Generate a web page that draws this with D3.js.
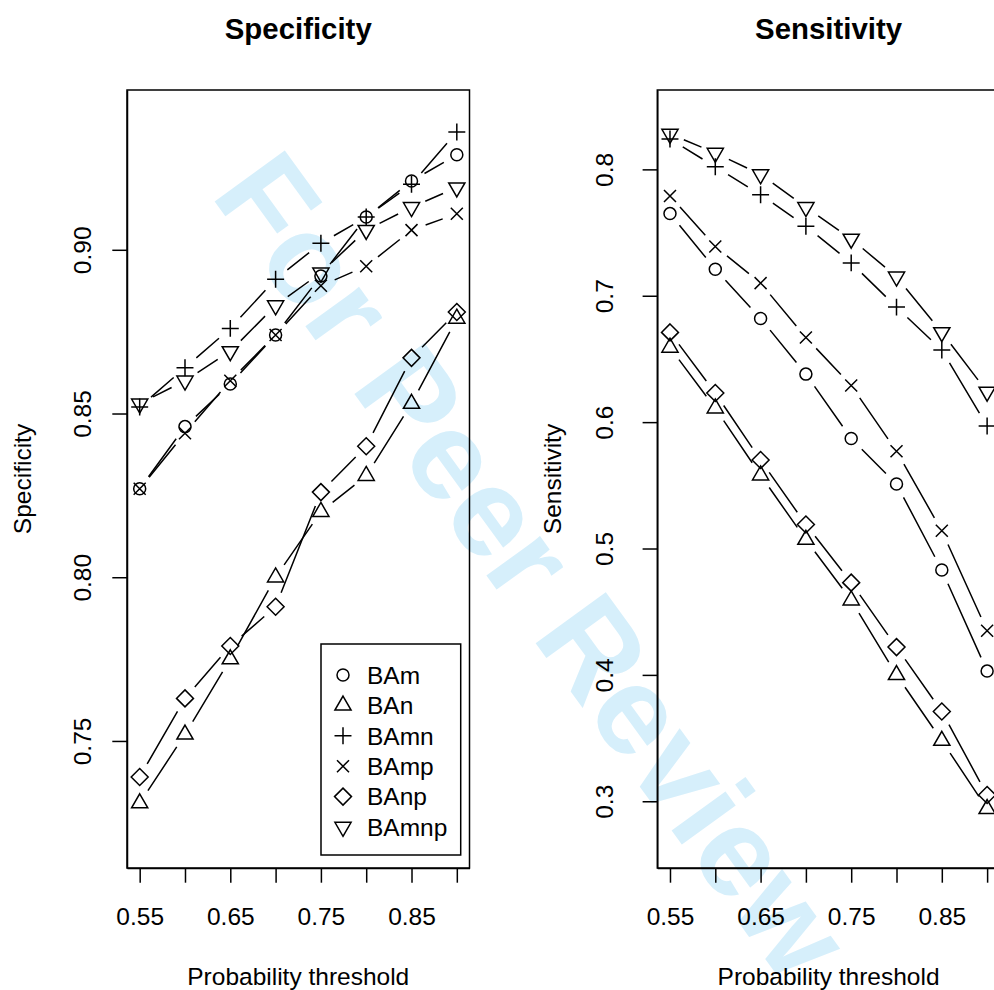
<!DOCTYPE html>
<html>
<head>
<meta charset="utf-8">
<script src="https://cdnjs.cloudflare.com/ajax/libs/d3/7.8.5/d3.min.js"></script>
<style>
  body { margin: 0; background: #fff; }
  svg { display: block; }
</style>
</head>
<body>
<div id="chart"></div>
<script>
// thresholds on the x axis, R only printed every other label
var thresholds = [0.55, 0.60, 0.65, 0.70, 0.75, 0.80, 0.85, 0.90];
var xTickLabels = ["0.55", "", "0.65", "", "0.75", "", "0.85", ""];

var seriesNames = ["BAm", "BAn", "BAmn", "BAmp", "BAnp", "BAmnp"];
var seriesSymbols = ["circle", "triUp", "plus", "cross", "diamond", "triDown"];

var specBAm   = [0.827, 0.846, 0.859, 0.874, 0.892, 0.910, 0.921, 0.929];
var specBAn   = [0.731, 0.752, 0.775, 0.800, 0.820, 0.831, 0.853, 0.879];
var specBAmn  = [0.852, 0.864, 0.876, 0.891, 0.902, 0.910, 0.920, 0.936];
var specBAmp  = [0.827, 0.844, 0.860, 0.874, 0.889, 0.895, 0.906, 0.911];
var specBAnp  = [0.739, 0.763, 0.779, 0.791, 0.826, 0.840, 0.867, 0.881];
var specBAmnp = [0.853, 0.860, 0.869, 0.883, 0.893, 0.906, 0.913, 0.919];

var sensBAm   = [0.765, 0.721, 0.682, 0.638, 0.587, 0.551, 0.483, 0.403];
var sensBAn   = [0.659, 0.611, 0.558, 0.507, 0.459, 0.400, 0.348, 0.294];
var sensBAmn  = [0.824, 0.802, 0.780, 0.755, 0.726, 0.691, 0.657, 0.597];
var sensBAmp  = [0.779, 0.739, 0.710, 0.667, 0.629, 0.577, 0.514, 0.435];
var sensBAnp  = [0.671, 0.623, 0.570, 0.519, 0.473, 0.422, 0.371, 0.305];
var sensBAmnp = [0.828, 0.813, 0.796, 0.770, 0.745, 0.715, 0.671, 0.624];

var specYTicks = [0.75, 0.80, 0.85, 0.90];
var sensYTicks = [0.3, 0.4, 0.5, 0.6, 0.7, 0.8];
var specYLim = [0.72, 0.94];
var sensYLim = [0.27, 0.84];

var width = 994, height = 990,
    fontFamily = '"Liberation Sans", Arial, Helvetica, sans-serif',
    fontSize = 24.5,
    symSize = 6,      // base symbol radius
    lineGap = 15,     // type="b" gap round each point
    tickLen = 14.7;

// R pads the axis limits by 4% on each side
var pad = function (lim) {
  var d = (lim[1] - lim[0]) * 0.04;
  return [lim[0] - d, lim[1] + d];
};

var svg = d3.select("#chart").append("svg")
    .attr("width", width)
    .attr("height", height)
    .style("font-family", fontFamily);

svg.append("rect").attr("width", width).attr("height", height).attr("fill", "#fff");

// watermark sits under everything
svg.append("text")
    .text("For Peer Review")
    .attr("transform", "translate(209.7,194.7) rotate(54)")
    .attr("font-size", 126)
    .attr("font-weight", "bold")
    .attr("fill", "#d6effb");

var symbolPath = function (type, s) {
  var a = 1.414 * s, t = 1.555 * s, tw = 1.347 * s, tb = 0.778 * s;
  switch (type) {
    case "circle": return "M" + (-s) + ",0 a" + s + "," + s + " 0 1,0 " + (2 * s) + ",0 a" + s + "," + s + " 0 1,0 " + (-2 * s) + ",0";
    case "triUp": return "M0," + (-t) + " L" + tw + "," + tb + " L" + (-tw) + "," + tb + " Z";
    case "triDown": return "M0," + t + " L" + tw + "," + (-tb) + " L" + (-tw) + "," + (-tb) + " Z";
    case "plus": return "M" + (-a) + ",0 L" + a + ",0 M0," + (-a) + " L0," + a;
    case "cross": return "M" + (-s) + "," + (-s) + " L" + s + "," + s + " M" + (-s) + "," + s + " L" + s + "," + (-s);
    case "diamond": return "M0," + (-a) + " L" + a + ",0 L0," + a + " L" + (-a) + ",0 Z";
  }
};

var drawPanel = function (p) {
  var x = d3.scaleLinear().domain(pad([thresholds[0], thresholds[thresholds.length - 1]])).range([p.left, p.right]);
  var y = d3.scaleLinear().domain(pad(p.ylim)).range([p.bottom, p.top]);

  var g = svg.append("g");

  // lines with gaps (type = "b")
  p.series.forEach(function (vals, si) {
    var pts = vals.map(function (v, i) { return [x(thresholds[i]), y(v)]; });
    var segs = [];
    for (var i = 0; i < pts.length - 1; i++) {
      var dx = pts[i + 1][0] - pts[i][0], dy = pts[i + 1][1] - pts[i][1],
          dist = Math.sqrt(dx * dx + dy * dy);
      if (dist <= 2 * lineGap) continue;
      var ux = dx / dist, uy = dy / dist;
      segs.push("M" + (pts[i][0] + ux * lineGap) + "," + (pts[i][1] + uy * lineGap) +
        " L" + (pts[i + 1][0] - ux * lineGap) + "," + (pts[i + 1][1] - uy * lineGap));
    }
    g.append("path")
      .attr("d", segs.join(" "))
      .attr("fill", "none")
      .attr("stroke", "#000")
      .attr("stroke-width", 1.5);

    g.selectAll(".pt" + si)
      .data(vals)
      .enter().append("path")
        .attr("transform", function (d, i) { return "translate(" + x(thresholds[i]) + "," + y(d) + ")"; })
        .attr("d", symbolPath(seriesSymbols[si], symSize))
        .attr("fill", "none")
        .attr("stroke", "#000")
        .attr("stroke-width", 1.5);
  });

  // box
  g.append("rect")
    .attr("x", p.left).attr("y", p.top)
    .attr("width", p.right - p.left).attr("height", p.bottom - p.top)
    .attr("fill", "none").attr("stroke", "#000").attr("stroke-width", 1.5);

  var xAxis = g.append("g")
    .attr("transform", "translate(0," + p.bottom + ")")
    .call(d3.axisBottom(x).tickValues(thresholds).tickSize(tickLen).tickSizeOuter(0)
      .tickFormat(function (d, i) { return xTickLabels[i]; }));
  xAxis.selectAll("text")
    .attr("y", 57).attr("dy", null)
    .attr("font-size", fontSize).attr("font-family", fontFamily).attr("fill", "#000");

  var yAxis = g.append("g")
    .attr("transform", "translate(" + p.left + ",0)")
    .call(d3.axisLeft(y).tickValues(p.yticks).tickSize(tickLen).tickSizeOuter(0)
      .tickFormat(d3.format(p.yfmt)));
  yAxis.selectAll("text")
    .attr("x", 0).attr("y", -p.labelGap).attr("dy", null)
    .attr("transform", "rotate(-90)")
    .attr("text-anchor", "middle")
    .attr("font-size", fontSize).attr("font-family", fontFamily).attr("fill", "#000");

  svg.selectAll("path.domain, .tick line").attr("stroke", "#000").attr("stroke-width", 1.5);

  var cx = (p.left + p.right) / 2, cy = (p.top + p.bottom) / 2;

  g.append("text")
    .text(p.title)
    .attr("x", cx).attr("y", 39)
    .attr("text-anchor", "middle")
    .attr("font-size", fontSize * 1.2)
    .attr("font-weight", "bold");

  g.append("text")
    .text("Probability threshold")
    .attr("x", cx).attr("y", 984.5)
    .attr("text-anchor", "middle")
    .attr("font-size", fontSize);

  g.append("text")
    .text(p.ylab)
    .attr("transform", "translate(" + (p.left - 96) + "," + cy + ") rotate(-90)")
    .attr("text-anchor", "middle")
    .attr("font-size", fontSize);
};

drawPanel({
  left: 127, right: 469.5, top: 90, bottom: 868,
  ylim: specYLim, yticks: specYTicks, yfmt: ".2f", labelGap: 36,
  title: "Specificity", ylab: "Specificity",
  series: [specBAm, specBAn, specBAmn, specBAmp, specBAnp, specBAmnp]
});

drawPanel({
  left: 657.3, right: 999.8, top: 90, bottom: 868,
  ylim: sensYLim, yticks: sensYTicks, yfmt: ".1f", labelGap: 44,
  title: "Sensitivity", ylab: "Sensitivity",
  series: [sensBAm, sensBAn, sensBAmn, sensBAmp, sensBAnp, sensBAmnp]
});

// legend, bottom right of the first panel
var legend = svg.append("g");
legend.append("rect")
  .attr("x", 321).attr("y", 644).attr("width", 139.7).attr("height", 211)
  .attr("fill", "#fff").attr("stroke", "#000").attr("stroke-width", 1.5);

var rows = legend.selectAll(".row")
  .data(seriesNames)
  .enter().append("g")
    .attr("transform", function (d, i) { return "translate(343," + (675 + i * 30.4) + ")"; });

rows.append("path")
  .attr("d", function (d, i) { return symbolPath(seriesSymbols[i], symSize); })
  .attr("fill", "none").attr("stroke", "#000").attr("stroke-width", 1.5);

rows.append("text")
  .text(function (d) { return d; })
  .attr("x", 24).attr("y", 8.7)
  .attr("font-size", fontSize);
</script>
</body>
</html>
